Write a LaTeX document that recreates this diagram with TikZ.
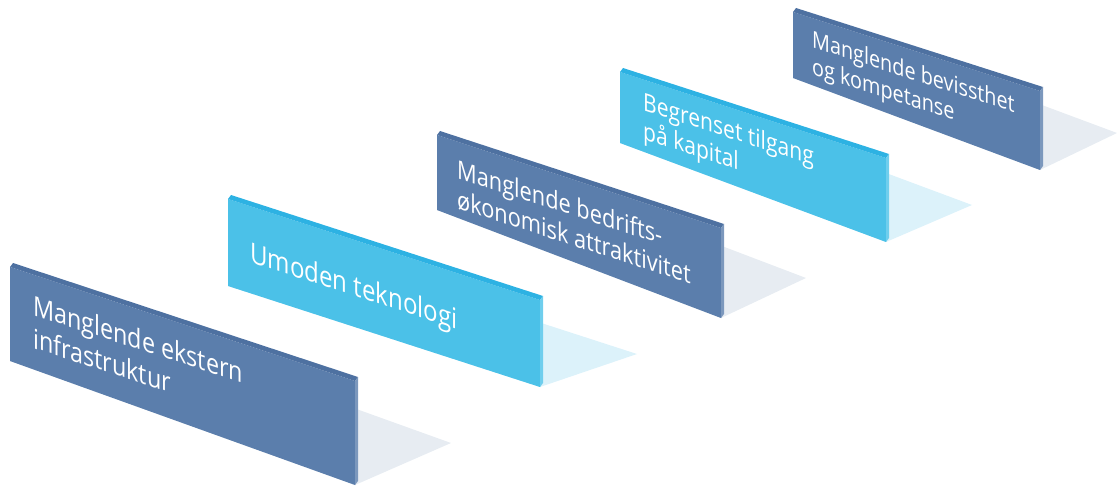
\documentclass[tikz,border=0pt]{standalone}
\usepackage{fontspec}
\setmainfont{Open Sans}
\usetikzlibrary{calc}
\definecolor{darkfront}{HTML}{5B7EAC}
\definecolor{darktop}{HTML}{4E71A1}
\definecolor{darkshade}{HTML}{E7ECF2}
\definecolor{lightfront}{HTML}{4BC1E8}
\definecolor{lighttop}{HTML}{2DB2E3}
\definecolor{lightshade}{HTML}{DCF2FA}

\begin{document}
\begin{tikzpicture}
  [x=1pt, y=-1pt,
   paneltext/.style={text=white, inner sep=0pt, anchor=base west, align=left,
                     cm={0.85,-0.276,0,1,(0,0)}}]
  \useasboundingbox (0,0) rectangle (1118,486);
  % panels from back to front: x left/right, y top/bottom left, y top/bottom right, shadow shift, colours
  \foreach \xl/\xr/\ytl/\ybl/\ytr/\ybr/\sx/\sy/\fc/\tc/\hc in
    {793/1040/12/78/91/170/77/-37/darkfront/darktop/darkshade,
     620/886/72/143/158/242/86/-37/lightfront/lighttop/lightshade,
     437/721/135/210/228/318/85/-40/darkfront/darktop/darkshade,
     228/540/199/286/300/387/97/-33/lightfront/lighttop/lightshade,
     10/355/267/361/381/485/96/-42/darkfront/darktop/darkshade}
  {
    \fill[\hc] (\xl,\ybl) -- (\xr,\ybr) -- (\xr+\sx,\ybr+\sy) -- (\xl+\sx,\ybl+\sy) -- cycle; % shadow on the floor
    \fill[\fc] (\xl,\ytl) -- (\xr,\ytr) -- (\xr,\ybr) -- (\xl,\ybl) -- cycle;
    \fill[\tc] (\xl,\ytl) -- (\xr,\ytr) -- (\xr+3,\ytr-4) -- (\xl+3,\ytl-4) -- cycle; % top edge
    \fill[\fc!80!white] (\xr,\ytr) -- (\xr+3,\ytr-4) -- (\xr+3,\ybr-4) -- (\xr,\ybr) -- cycle; % side edge
  }
  % texts, placed at the baseline of their last line
  \node[paneltext, font=\fontsize{27.5}{33}\selectfont] (ekstern) at (33,348) {Manglende ekstern\\infrastruktur};
  \node[paneltext, font=\fontsize{28.3}{33}\selectfont] (teknologi) at (250,262) {Umoden teknologi};
  \node[paneltext, font=\fontsize{25.6}{30}\selectfont] (attraktiv) at (457,208) {Manglende bedrifts-\\økonomisk attraktivitet};
  \node[paneltext, font=\fontsize{24.8}{29}\selectfont] (kapital) at (643,139) {Begrenset tilgang\\på kapital};
  \node[paneltext, font=\fontsize{23.3}{27}\selectfont] (kompetanse) at (812,74) {Manglende bevissthet\\og kompetanse};
\end{tikzpicture}
\end{document}
